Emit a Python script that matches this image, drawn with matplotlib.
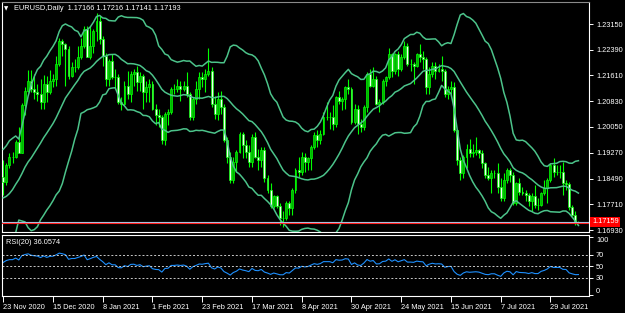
"""
EURUSD daily chart with Bollinger bands and RSI, MT4 style
"""
import matplotlib
matplotlib.use("Agg")
import matplotlib.pyplot as plt
import numpy as np
import pandas as pd

plt.rcParams['font.family'] = ['Liberation Sans', 'DejaVu Sans']

# closes before the first visible bar (only needed for the indicators)
closes_before = [1.1665, 1.1745, 1.1720, 1.1750, 1.1715, 1.1780, 1.1735, 1.1760, 1.1760, 1.1825,
                 1.1815, 1.1745, 1.1745, 1.1705, 1.1720, 1.1770, 1.1820, 1.1860, 1.1815, 1.1860,
                 1.1810, 1.1795, 1.1745, 1.1675, 1.1645, 1.1640, 1.1715, 1.1720, 1.1830, 1.1875,
                 1.1815, 1.1810, 1.1775, 1.1810, 1.1835, 1.1855, 1.1860, 1.1850, 1.1870, 1.1855]

opens = [1.1855, 1.1840, 1.1890, 1.1915, 1.1915, 1.1960, 1.1927, 1.2072, 1.2115, 1.2145,
         1.2120, 1.2110, 1.2105, 1.2080, 1.2135, 1.2110, 1.2145, 1.2150, 1.2195, 1.2265,
         1.2255, 1.2240, 1.2160, 1.2185, 1.2185, 1.2215, 1.2250, 1.2300, 1.2215, 1.2250,
         1.2295, 1.2325, 1.2270, 1.2220, 1.2150, 1.2205, 1.2155, 1.2155, 1.2080, 1.2075,
         1.2130, 1.2105, 1.2165, 1.2170, 1.2140, 1.2160, 1.2110, 1.2125, 1.2135, 1.2060,
         1.2040, 1.2035, 1.1965, 1.2045, 1.2050, 1.2120, 1.2120, 1.2130, 1.2120, 1.2130,
         1.2105, 1.2035, 1.2090, 1.2120, 1.2155, 1.2150, 1.2165, 1.2175, 1.2075, 1.2045,
         1.2090, 1.2065, 1.1965, 1.1915, 1.1845, 1.1900, 1.1930, 1.1985, 1.1950, 1.1930,
         1.1900, 1.1975, 1.1915, 1.1905, 1.1935, 1.1850, 1.1815, 1.1765, 1.1795, 1.1765,
         1.1730, 1.1730, 1.1775, 1.1760, 1.1815, 1.1875, 1.1870, 1.1915, 1.1900, 1.1910,
         1.1945, 1.1980, 1.1965, 1.1985, 1.2035, 1.2035, 1.2035, 1.2015, 1.2095, 1.2085,
         1.2090, 1.2125, 1.2120, 1.2020, 1.2060, 1.2015, 1.2005, 1.2065, 1.2165, 1.2130,
         1.2150, 1.2075, 1.2080, 1.2145, 1.2155, 1.2225, 1.2175, 1.2225, 1.2180, 1.2215,
         1.2250, 1.2195, 1.2195, 1.2190, 1.2225, 1.2215, 1.2210, 1.2125, 1.2165, 1.2190,
         1.2175, 1.2180, 1.2175, 1.2105, 1.2120, 1.2125, 1.1995, 1.1905, 1.1865, 1.1915,
         1.1940, 1.1925, 1.1930, 1.1935, 1.1925, 1.1895, 1.1860, 1.1850, 1.1865, 1.1865,
         1.1825, 1.1790, 1.1845, 1.1875, 1.1860, 1.1775, 1.1835, 1.1810, 1.1805, 1.1800,
         1.1780, 1.1795, 1.1770, 1.1770, 1.1805, 1.1820, 1.1845, 1.1890, 1.1870, 1.1870,
         1.1870, 1.1835, 1.1833, 1.1762, 1.1738, 1.17166]

highs = [1.1906, 1.1895, 1.1925, 1.1930, 1.1965, 1.2005, 1.2077, 1.2125, 1.2177, 1.2178,
         1.2165, 1.2135, 1.2150, 1.2162, 1.2160, 1.2177, 1.2165, 1.2220, 1.2273, 1.2272,
         1.2260, 1.2250, 1.2200, 1.2210, 1.2250, 1.2275, 1.2310, 1.2310, 1.2310, 1.2300,
         1.2349, 1.2340, 1.2280, 1.2230, 1.2210, 1.2225, 1.2180, 1.2165, 1.2095, 1.2145,
         1.2175, 1.2175, 1.2180, 1.2190, 1.2170, 1.2165, 1.2145, 1.2150, 1.2145, 1.2075,
         1.2060, 1.2040, 1.2050, 1.2060, 1.2125, 1.2135, 1.2150, 1.2145, 1.2145, 1.2170,
         1.2110, 1.2095, 1.2145, 1.2170, 1.2170, 1.2180, 1.2243, 1.2185, 1.2100, 1.2110,
         1.2115, 1.2075, 1.1975, 1.1930, 1.1915, 1.1935, 1.1990, 1.1990, 1.1965, 1.1950,
         1.1985, 1.1990, 1.1940, 1.1945, 1.1945, 1.1860, 1.1835, 1.1800, 1.1800, 1.1775,
         1.1750, 1.1780, 1.1780, 1.1820, 1.1880, 1.1915, 1.1930, 1.1925, 1.1915, 1.1950,
         1.1990, 1.1995, 1.1995, 1.2050, 1.2080, 1.2050, 1.2070, 1.2100, 1.2115, 1.2095,
         1.2130, 1.2150, 1.2125, 1.2075, 1.2070, 1.2030, 1.2070, 1.2170, 1.2180, 1.2185,
         1.2160, 1.2090, 1.2150, 1.2160, 1.2245, 1.2230, 1.2230, 1.2235, 1.2225, 1.2266,
         1.2260, 1.2210, 1.2200, 1.2230, 1.2255, 1.2235, 1.2215, 1.2185, 1.2200, 1.2200,
         1.2195, 1.2220, 1.2180, 1.2130, 1.2145, 1.2140, 1.2000, 1.1915, 1.1920, 1.1955,
         1.1970, 1.1955, 1.1975, 1.1940, 1.1935, 1.1900, 1.1885, 1.1875, 1.1875, 1.1895,
         1.1850, 1.1865, 1.1880, 1.1880, 1.1870, 1.1840, 1.1850, 1.1825, 1.1815, 1.1805,
         1.1805, 1.1830, 1.1790, 1.1810, 1.1845, 1.1850, 1.1895, 1.1910, 1.1890, 1.1890,
         1.1900, 1.1845, 1.1840, 1.1770, 1.1750, 1.17216]

lows = [1.1800, 1.1830, 1.1880, 1.1895, 1.1910, 1.1925, 1.1925, 1.2040, 1.2110, 1.2110,
        1.2090, 1.2085, 1.2060, 1.2060, 1.2080, 1.2105, 1.2125, 1.2130, 1.2190, 1.2220,
        1.2130, 1.2150, 1.2155, 1.2170, 1.2180, 1.2210, 1.2245, 1.2215, 1.2210, 1.2230,
        1.2265, 1.2255, 1.2190, 1.2130, 1.2130, 1.2150, 1.2120, 1.2075, 1.2055, 1.2070,
        1.2090, 1.2080, 1.2130, 1.2115, 1.2115, 1.2060, 1.2080, 1.2080, 1.2055, 1.2010,
        1.2005, 1.1955, 1.1950, 1.2010, 1.2045, 1.2105, 1.2110, 1.2085, 1.2115, 1.2095,
        1.2025, 1.2025, 1.2075, 1.2090, 1.2125, 1.2110, 1.2160, 1.2065, 1.2030, 1.2025,
        1.2045, 1.1960, 1.1895, 1.1835, 1.1835, 1.1870, 1.1925, 1.1910, 1.1910, 1.1885,
        1.1885, 1.1910, 1.1875, 1.1885, 1.1840, 1.1805, 1.1760, 1.1760, 1.1760, 1.1710,
        1.1704, 1.1725, 1.1740, 1.1740, 1.1805, 1.1855, 1.1860, 1.1870, 1.1875, 1.1875,
        1.1940, 1.1945, 1.1955, 1.1980, 1.2025, 1.2000, 1.1995, 1.2005, 1.2075, 1.2055,
        1.2060, 1.2105, 1.2015, 1.2015, 1.1985, 1.1990, 1.1995, 1.2050, 1.2125, 1.2125,
        1.2070, 1.2050, 1.2075, 1.2130, 1.2150, 1.2155, 1.2165, 1.2160, 1.2175, 1.2210,
        1.2190, 1.2175, 1.2135, 1.2185, 1.2200, 1.2180, 1.2105, 1.2105, 1.2155, 1.2150,
        1.2170, 1.2145, 1.2095, 1.2090, 1.2100, 1.1990, 1.1890, 1.1845, 1.1850, 1.1880,
        1.1915, 1.1915, 1.1920, 1.1910, 1.1880, 1.1850, 1.1845, 1.1805, 1.1850, 1.1805,
        1.1780, 1.1780, 1.1835, 1.1840, 1.1770, 1.1770, 1.1800, 1.1800, 1.1780, 1.1765,
        1.1752, 1.1760, 1.1755, 1.1765, 1.1800, 1.1775, 1.1840, 1.1855, 1.1860, 1.1850,
        1.1800, 1.1815, 1.1755, 1.1735, 1.1710, 1.17141]

closes = [1.1840, 1.1890, 1.1915, 1.1915, 1.1960, 1.1927, 1.2072, 1.2115, 1.2145, 1.2120,
          1.2110, 1.2105, 1.2080, 1.2135, 1.2110, 1.2145, 1.2150, 1.2195, 1.2265, 1.2255,
          1.2240, 1.2160, 1.2185, 1.2185, 1.2215, 1.2250, 1.2300, 1.2215, 1.2250, 1.2295,
          1.2325, 1.2270, 1.2220, 1.2150, 1.2205, 1.2155, 1.2155, 1.2080, 1.2075, 1.2130,
          1.2105, 1.2165, 1.2170, 1.2140, 1.2160, 1.2110, 1.2125, 1.2135, 1.2060, 1.2040,
          1.2035, 1.1965, 1.2045, 1.2050, 1.2120, 1.2120, 1.2130, 1.2120, 1.2130, 1.2105,
          1.2035, 1.2090, 1.2120, 1.2155, 1.2150, 1.2165, 1.2175, 1.2075, 1.2045, 1.2090,
          1.2065, 1.1965, 1.1915, 1.1845, 1.1900, 1.1930, 1.1985, 1.1950, 1.1930, 1.1900,
          1.1975, 1.1915, 1.1905, 1.1935, 1.1850, 1.1815, 1.1765, 1.1795, 1.1765, 1.1730,
          1.1730, 1.1775, 1.1760, 1.1815, 1.1875, 1.1870, 1.1915, 1.1900, 1.1910, 1.1945,
          1.1980, 1.1965, 1.1985, 1.2035, 1.2035, 1.2035, 1.2015, 1.2095, 1.2085, 1.2090,
          1.2125, 1.2120, 1.2020, 1.2060, 1.2015, 1.2005, 1.2065, 1.2165, 1.2130, 1.2150,
          1.2075, 1.2080, 1.2145, 1.2155, 1.2225, 1.2175, 1.2225, 1.2180, 1.2215, 1.2250,
          1.2195, 1.2195, 1.2190, 1.2225, 1.2215, 1.2210, 1.2125, 1.2165, 1.2190, 1.2175,
          1.2180, 1.2175, 1.2105, 1.2120, 1.2125, 1.1995, 1.1905, 1.1865, 1.1915, 1.1940,
          1.1925, 1.1930, 1.1935, 1.1925, 1.1895, 1.1860, 1.1850, 1.1865, 1.1865, 1.1825,
          1.1790, 1.1845, 1.1875, 1.1860, 1.1775, 1.1835, 1.1810, 1.1805, 1.1800, 1.1780,
          1.1795, 1.1770, 1.1770, 1.1805, 1.1820, 1.1845, 1.1890, 1.1870, 1.1870, 1.1870,
          1.1835, 1.1833, 1.1762, 1.1738, 1.1718, 1.17193]

price_ticks = [1.23150, 1.22390, 1.21610, 1.20830, 1.20050, 1.19270, 1.18490, 1.17710, 1.16930]
date_ticks = [0, 16, 32, 48, 64, 80, 96, 112, 128, 144, 160, 176]
date_labels = ['23 Nov 2020', '15 Dec 2020', '8 Jan 2021', '1 Feb 2021', '23 Feb 2021',
               '17 Mar 2021', '8 Apr 2021', '30 Apr 2021', '24 May 2021', '15 Jun 2021',
               '7 Jul 2021', '29 Jul 2021']
rsi_levels = [70, 50, 30]
bid = 1.17193
marker_price = 1.17159

W, H = 625, 313
FS = 5.3
PERIOD = 20
fig = plt.figure(figsize=(W / 100, H / 100), dpi=100, facecolor='black')


def px_axes(x0, y0, x1, y1):
    a = fig.add_axes([x0 / W, 1 - y1 / H, (x1 - x0) / W, (y1 - y0) / H])
    a.set_facecolor('black')
    for s in a.spines.values():
        s.set_color('white')
        s.set_linewidth(0.8)
    return a


def wilder_rsi(values, n):
    """RSI seeded with a simple average, then Wilder smoothing (as MT4 does)"""
    d = np.diff(values)
    g = np.where(d > 0, d, 0.0)
    lo = np.where(d < 0, -d, 0.0)
    out = np.full(len(values), np.nan)
    ag, al = g[:n].mean(), lo[:n].mean()
    out[n] = 100 - 100 / (1 + ag / al)
    for i in range(n + 1, len(values)):
        ag = (ag * (n - 1) + g[i - 1]) / n
        al = (al * (n - 1) + lo[i - 1]) / n
        out[i] = 100 - 100 / (1 + ag / al)
    return out


ax = px_axes(2, 2, 589, 232)
rax = px_axes(2, 235, 589, 296)
ax.spines['top'].set_color('#8a8a8a')

# indicators: Bollinger(20, 2) and RSI(20)
allc = pd.Series(closes_before + closes)
n0 = len(closes_before)
mid = allc.rolling(PERIOD).mean()
sd = allc.rolling(PERIOD).std(ddof=0)
upper = (mid + 2 * sd).values[n0:]
lower = (mid - 2 * sd).values[n0:]
mid = mid.values[n0:]
rsi = wilder_rsi(allc.values, PERIOD)[n0:]

x = np.arange(len(closes))
o, h, l, c = map(np.array, (opens, highs, lows, closes))
up = c >= o
ax.vlines(x, l, h, color='#00ff00', lw=0.8, zorder=2)
ax.bar(x[up], c[up] - o[up], bottom=o[up], width=0.62, color='#00b400',
       edgecolor='#00ff00', lw=0.5, zorder=3)
ax.bar(x[~up], o[~up] - c[~up], bottom=c[~up], width=0.62, color='#f0fff0',
       edgecolor='#00ff00', lw=0.5, zorder=3)

band_col = '#4cc38a'
for band in (upper, mid, lower):
    ax.plot(x, band, color=band_col, lw=1.1, zorder=4)

ax.axhline(bid, color='#a6c8e6', lw=0.8, zorder=5)
ax.axhline(marker_price, color='#ff2020', lw=0.8, zorder=5)

ax.set_xlim(-0.4, 188.4)
ax.set_ylim(1.16877, 1.23827)
ax.set_xticks([])
ax.yaxis.tick_right()
ax.set_yticks(price_ticks)
ax.set_yticklabels([f'{v:.5f}' for v in price_ticks])
ax.tick_params(axis='y', colors='white', length=3, width=0.7, pad=2, labelsize=FS)

# RSI panel
rax.plot(x, rsi, color='#1e90ff', lw=0.8)
for lv in rsi_levels:
    rax.axhline(lv, color='#c8c8c8', lw=0.7, ls=(0, (2, 2)))
rax.set_xlim(-0.4, 188.4)
rax.set_ylim(-1, 103.5)
rax.yaxis.tick_right()
rax.set_yticks([0, 30, 50, 70, 100])
rax.set_yticklabels(['0', '30', '50', '70', '100'])
rax.tick_params(axis='y', colors='white', length=3, width=0.7, pad=2, labelsize=FS)
lbls = rax.get_yticklabels()
lbls[0].set_va('bottom')
lbls[-1].set_va('top')
rax.set_xticks(date_ticks)
rax.set_xticklabels(date_labels)
rax.tick_params(axis='x', colors='white', length=4, width=0.7, pad=2, labelsize=FS)
for lb in rax.get_xticklabels():
    lb.set_ha('left')
rax.text(0.006, 0.93, 'RSI(20) 36.0574', transform=rax.transAxes, color='white',
         fontsize=FS, va='top')

# header and current price marker
fig.text(4 / W, 1 - 8.5 / H, '\u25bc', fontsize=4, color='white', va='center',
         family='DejaVu Sans')
fig.text(14 / W, 1 - 8.5 / H, 'EURUSD,Daily  1.17166 1.17216 1.17141 1.17193',
         fontsize=FS, color='white', va='center')
fig.text(592 / W, 1 - 221.7 / H, f'{marker_price:.5f}', fontsize=FS, color='white',
         va='center', bbox=dict(facecolor='#ff0000', edgecolor='none', pad=1.2))

fig.savefig('out.png', dpi=100, facecolor='black')
